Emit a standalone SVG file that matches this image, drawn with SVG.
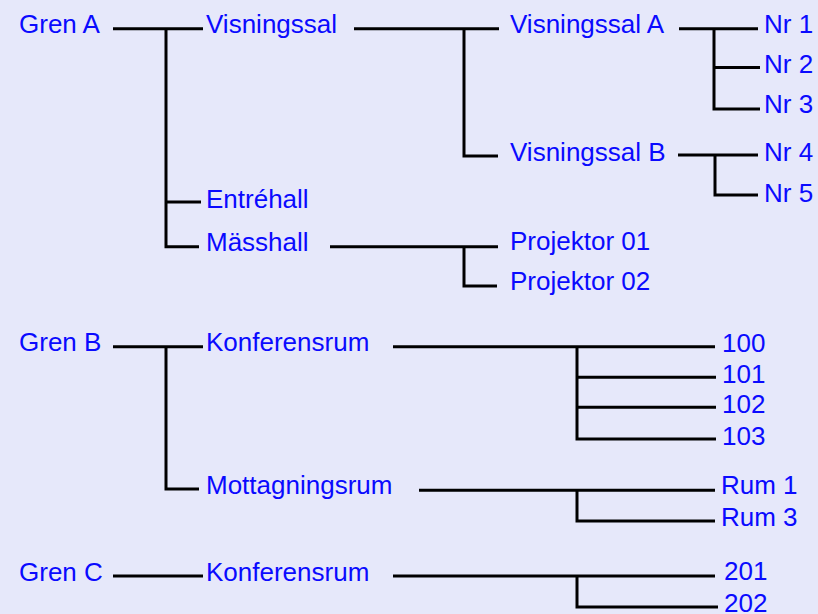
<svg xmlns="http://www.w3.org/2000/svg" width="818" height="614" viewBox="0 0 818 614">
<style>
text{font-family:"Liberation Sans",Arial,Helvetica,sans-serif;font-size:26px;fill:#0a0aff}
.c path{fill:none;stroke:#000;stroke-width:3;stroke-linecap:butt}
</style>
<rect width="818" height="614" fill="#e6e8fa"/>
<g class="c" id="connectors">
<path d="M113 28.7H203M166 28.7V246.7H199M166 202H201"/>
<path d="M354 28.7H499M464 28.7V156H498"/>
<path d="M679 28.7H758M714 28.7V109H760M714 67.5H760"/>
<path d="M678 155H758M715 155V195H758"/>
<path d="M330 246.7H498M464 246.7V286H497"/>
<path d="M113 346.7H203M166 346.7V489H199"/>
<path d="M393 346.7H715M577 346.7V439H716M577 377.3H716M577 407.3H716"/>
<path d="M419 490.3H715M577 490.3V521H715"/>
<path d="M113 576H203"/>
<path d="M393 576H715M577 576V607H718"/>
</g>
<g id="grenA"><text x="19" y="33">Gren A</text></g>
<g id="visningssal"><text x="206" y="33">Visningssal</text></g>
<g id="entrehall"><text x="206" y="208">Entréhall</text></g>
<g id="masshall"><text x="206" y="251">Mässhall</text></g>
<g id="visA"><text x="510" y="33">Visningssal A</text></g>
<g id="visB"><text x="510" y="161">Visningssal B</text></g>
<g id="nr1"><text x="764" y="33">Nr 1</text></g>
<g id="nr2"><text x="764" y="73">Nr 2</text></g>
<g id="nr3"><text x="764" y="113">Nr 3</text></g>
<g id="nr4"><text x="764" y="161">Nr 4</text></g>
<g id="nr5"><text x="764" y="202">Nr 5</text></g>
<g id="proj01"><text x="510" y="250">Projektor 01</text></g>
<g id="proj02"><text x="510" y="290">Projektor 02</text></g>
<g id="grenB"><text x="19" y="351">Gren B</text></g>
<g id="konfB"><text x="206" y="351">Konferensrum</text></g>
<g id="mottagning"><text x="206" y="494">Mottagningsrum</text></g>
<g id="r100"><text x="722" y="352">100</text></g>
<g id="r101"><text x="722" y="383">101</text></g>
<g id="r102"><text x="722" y="413">102</text></g>
<g id="r103"><text x="722" y="445">103</text></g>
<g id="rum1"><text x="721" y="494">Rum 1</text></g>
<g id="rum3"><text x="721" y="526">Rum 3</text></g>
<g id="grenC"><text x="19" y="581">Gren C</text></g>
<g id="konfC"><text x="206" y="581">Konferensrum</text></g>
<g id="r201"><text x="724" y="580">201</text></g>
<g id="r202"><text x="724" y="612">202</text></g>
</svg>
